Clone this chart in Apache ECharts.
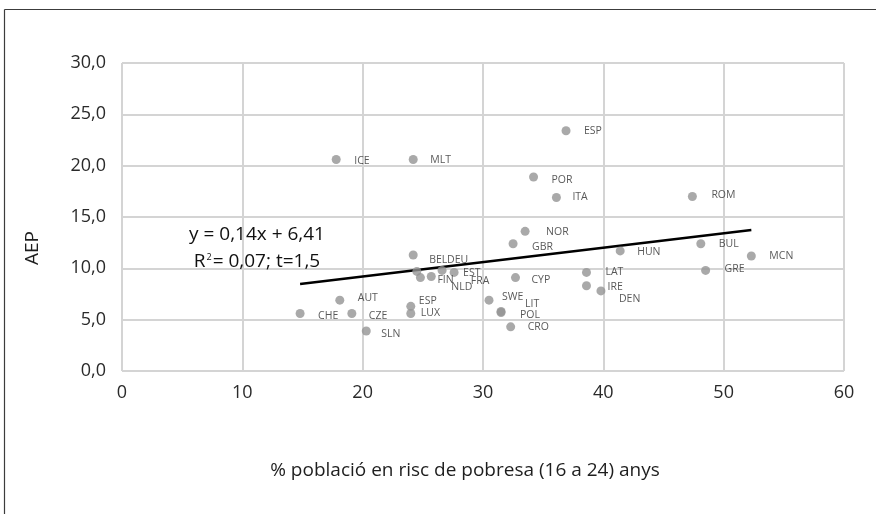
<!DOCTYPE html>
<html>
<head>
<meta charset="utf-8">
<title>AEP i risc de pobresa</title>
<script src="https://cdn.jsdelivr.net/npm/echarts@6/dist/echarts.min.js"></script>
<style>
  html, body { margin: 0; padding: 0; background: #ffffff; }
  #chart { width: 876px; height: 514px; }
</style>
</head>
<body>
<div id="chart"></div>
<script>
// Country codes, poverty-risk share (16-24) and AEP values
const countries = ['ICE', 'MLT', 'ESP', 'POR', 'ITA', 'NOR', 'ROM', 'HUN', 'BUL', 'MCN',
                   'GRE', 'LAT', 'IRE', 'DEN', 'GBR', 'CYP', 'SWE', 'LIT', 'POL', 'CRO',
                   'BEL', 'DEU', 'EST', 'FIN', 'NLD', 'FRA', 'AUT', 'CHE', 'CZE', 'SLN',
                   'ESP', 'LUX'];
const povertyRisk = [17.8, 24.2, 36.9, 34.2, 36.1, 33.5, 47.4, 41.4, 48.1, 52.3,
                     48.5, 38.6, 38.6, 39.8, 32.5, 32.7, 30.5, 31.5, 31.5, 32.3,
                     24.2, 26.6, 27.6, 24.8, 25.7, 24.5, 18.1, 14.8, 19.1, 20.3,
                     24.0, 24.0];
const aep = [20.6, 20.6, 23.4, 18.9, 16.9, 13.6, 17.0, 11.7, 12.4, 11.2,
             9.8, 9.6, 8.3, 7.8, 12.4, 9.1, 6.9, 5.8, 5.7, 4.3,
             11.3, 9.8, 9.6, 9.1, 9.2, 9.7, 6.9, 5.6, 5.6, 3.9,
             6.3, 5.6];

// Linear fit as printed on the chart
const trendSlope = 0.14;
const trendIntercept = 6.41;
const rSquared = 0.07;
const tStat = 1.5;

// Axis ticks
const xTicks = [0, 10, 20, 30, 40, 50, 60];
const yTicks = [0, 5, 10, 15, 20, 25, 30];

// Label placement: [dx, dy] of each label's left/middle from its point centre
const labelNudge = [[18, 2], [17, 1], [18, 0], [18, 3], [16, 0], [21, 1], [19, -1], [17, 1], [18, 0], [18, 0],
                    [19, -1], [19, 0], [21, 1], [18, 8], [19, 3], [16, 2], [13, -3], [24, -7], [19, 3], [17, 0],
                    [16, 5], [5, -10], [9, 1], [17, 2], [20, 10], [54, 10], [18, -2], [18, 3], [17, 3], [15, 3],
                    [8, -5], [10, 0]];

const FONT = '"Open Sans", "DejaVu Sans", sans-serif';
const dec = (v, d) => v.toFixed(d).replace('.', ',');
const SYMBOL = 9;

const points = countries.map((c, i) => ({
  value: [povertyRisk[i], aep[i]],
  name: c,
  label: {
    position: [labelNudge[i][0] + SYMBOL / 2, labelNudge[i][1] + SYMBOL / 2]
  }
}));

const xMinData = Math.min(...povertyRisk);
const xMaxData = Math.max(...povertyRisk);
const trendLine = [
  [xMinData, trendSlope * xMinData + trendIntercept],
  [xMaxData, trendSlope * xMaxData + trendIntercept]
];

const chart = echarts.init(document.getElementById('chart'), null, { renderer: 'canvas' });

chart.setOption({
  animation: false,
  backgroundColor: '#ffffff',
  textStyle: { fontFamily: FONT },
  grid: { left: 122, right: 32, top: 63, bottom: 143, containLabel: false },
  xAxis: {
    type: 'value',
    min: xTicks[0],
    max: xTicks[xTicks.length - 1],
    interval: xTicks[1] - xTicks[0],
    axisLine: { show: false },
    axisTick: { show: false },
    splitLine: { show: true, lineStyle: { color: '#d4d4d4', width: 2 } },
    axisLabel: { color: '#2a2a2a', fontSize: 18, fontFamily: FONT, margin: 13 }
  },
  yAxis: {
    type: 'value',
    min: yTicks[0],
    max: yTicks[yTicks.length - 1],
    interval: yTicks[1] - yTicks[0],
    axisLine: { show: false },
    axisTick: { show: false },
    splitLine: { show: true, lineStyle: { color: '#d4d4d4', width: 2 } },
    axisLabel: {
      color: '#2a2a2a', fontSize: 18, fontFamily: FONT, margin: 16,
      formatter: v => dec(v, 1)
    }
  },
  series: [
    {
      type: 'line',
      data: trendLine,
      showSymbol: false,
      symbol: 'none',
      silent: true,
      lineStyle: { color: '#000000', width: 2.5 },
      z: 3
    },
    {
      type: 'scatter',
      data: points,
      symbol: 'circle',
      symbolSize: SYMBOL,
      itemStyle: { color: '#939393' },
      z: 4,
      label: {
        show: true,
        formatter: p => p.name,
        align: 'left',
        verticalAlign: 'middle',
        color: '#2e2e2e',
        fontSize: 10.5,
        fontFamily: FONT
      },
      labelLayout: { hideOverlap: false }
    }
  ],
  graphic: [
    // outer frame (top and left edges)
    { type: 'line', shape: { x1: 4.5, y1: 9.5, x2: 876, y2: 9.5 }, style: { stroke: '#3c3c3c', lineWidth: 1.2 } },
    { type: 'line', shape: { x1: 4.5, y1: 9.5, x2: 4.5, y2: 514 }, style: { stroke: '#3c3c3c', lineWidth: 1.2 } },
    // axis titles
    {
      type: 'text', x: 33, y: 248, rotation: Math.PI / 2,
      style: { text: 'AEP', font: '19px ' + FONT, fill: '#1e1e1e', align: 'center', verticalAlign: 'middle' }
    },
    {
      type: 'text', x: 465, y: 471,
      style: { text: '% població en risc de pobresa (16 a 24) anys', font: '19px ' + FONT, fill: '#1e1e1e', align: 'center', verticalAlign: 'middle' }
    },
    // trend-line equation
    {
      type: 'text', x: 257, y: 235, z: 10,
      style: {
        text: 'y = ' + dec(trendSlope, 2) + 'x + ' + dec(trendIntercept, 2),
        font: '19px ' + FONT, fill: '#111111', align: 'center', verticalAlign: 'middle'
      }
    },
    {
      type: 'text', x: 257, y: 262, z: 10,
      style: {
        text: '{b|R}{s|2}{b|= ' + dec(rSquared, 2) + '; t=' + dec(tStat, 1) + '}',
        align: 'center', verticalAlign: 'middle',
        rich: {
          b: { font: '19px ' + FONT, fill: '#111111', verticalAlign: 'bottom' },
          s: { font: '9px ' + FONT, fill: '#111111', verticalAlign: 'top', padding: [0, 1, 10, 1] }
        }
      }
    }
  ]
});
</script>
</body>
</html>
